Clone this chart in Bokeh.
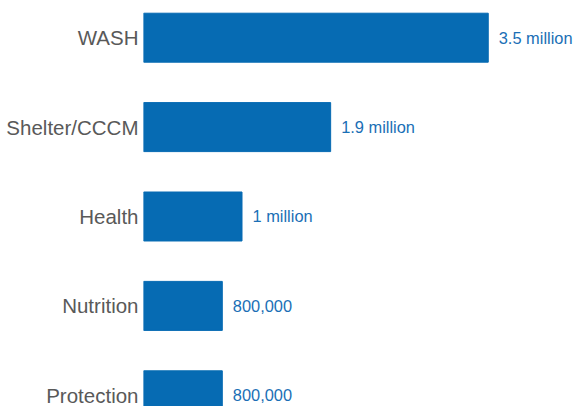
from bokeh.plotting import figure
from bokeh.models import Range1d, FixedTicker, ColumnDataSource
from bokeh.embed import file_html
from bokeh.resources import INLINE
from bokeh.core.properties import value

categories = ["WASH", "Shelter/CCCM", "Health", "Nutrition", "Protection"]
people = [3500000, 1900000, 1000000, 800000, 800000]
value_labels = ["3.5 million", "1.9 million", "1 million", "800,000", "800,000"]

n = len(categories)
ypos = [n - 1 - i for i in range(n)]

src = ColumnDataSource(dict(y=ypos, v=people, cat=categories, lab=value_labels))

p = figure(width=574, height=406, output_backend="svg", toolbar_location=None,
           x_range=Range1d(0, 4.3756e6), y_range=Range1d(-0.1253, 4.4161),
           min_border_left=143, min_border_right=0, min_border_top=0, min_border_bottom=0)
p.outline_line_color = None
p.grid.visible = False
p.xaxis.visible = False

p.hbar(y="y", left=0, right="v", height=0.548, source=src, color="#066bb3")
p.text(x="v", y="y", text="lab", source=src, x_offset=10.5, text_baseline="middle",
       text_align="left", text_font=value("Liberation Sans"), text_font_size="16.4px",
       text_color="#1a6fb6")

ax = p.yaxis[0]
ax.ticker = FixedTicker(ticks=ypos)
ax.major_label_overrides = {y: c for y, c in zip(ypos, categories)}
ax.axis_line_color = None
ax.major_tick_line_color = None
ax.minor_tick_line_color = None
ax.major_tick_in = 0
ax.major_tick_out = 0
ax.minor_tick_in = 0
ax.minor_tick_out = 0
ax.major_label_standoff = 5
ax.major_label_text_font = "Liberation Sans"
ax.major_label_text_font_size = "20.5px"
ax.major_label_text_color = "#595959"

open("out.html", "w").write(file_html(p, INLINE))
